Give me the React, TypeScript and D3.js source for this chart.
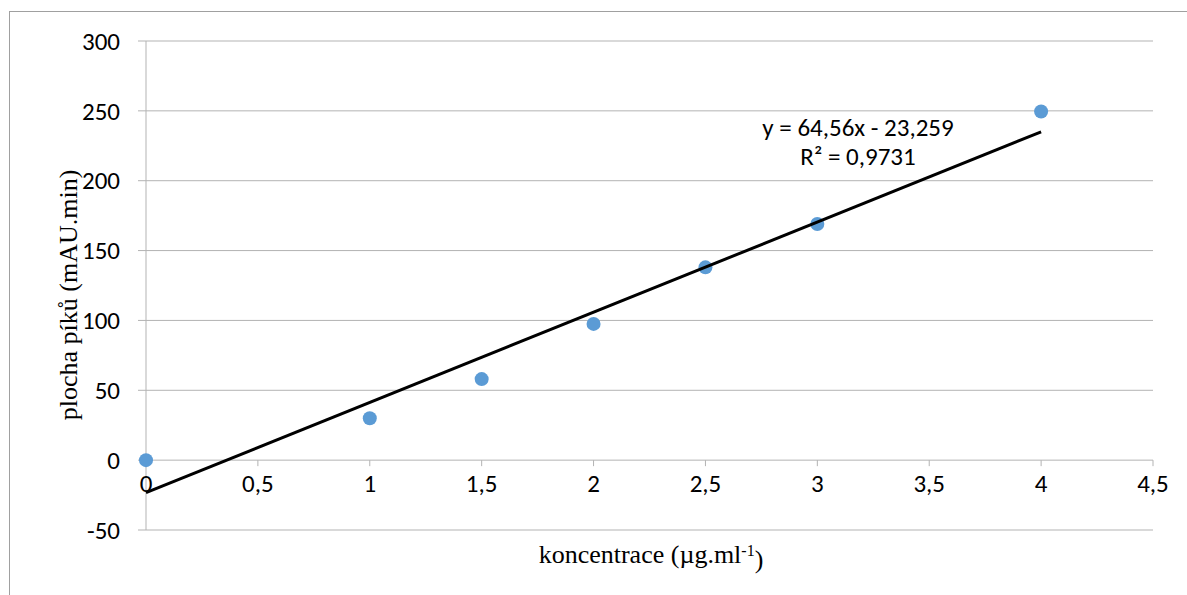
import React from "react";
import * as d3 from "d3";

const xValues = [0, 1, 1.5, 2, 2.5, 3, 4];
const yValues = [0, 30, 58, 97.5, 138, 169, 249.5];
const slope = 64.56;
const intercept = -23.259;
const xTicks = [0, 0.5, 1, 1.5, 2, 2.5, 3, 3.5, 4, 4.5];
const yTicks = [-50, 0, 50, 100, 150, 200, 250, 300];

const W = 1187, H = 595;
const fmt = (v: number) => String(v).replace(".", ",");

export default function App() {
  const x = d3.scaleLinear().domain([0, 4.5]).range([146, 1153]);
  const y = d3.scaleLinear().domain([-50, 300]).range([530, 41]);
  const sans = "Carlito, Lato, 'Open Sans', sans-serif";
  const serif = "'Liberation Serif', 'DejaVu Serif', serif";
  const grid = "#b3b3b3";
  const fs = 25;
  const trend = d3.line<number>().x(d => x(d)).y(d => y(slope * d + intercept));
  return (
    <svg width={W} height={H} style={{ position: "absolute", left: 0, top: 0 }}>
      <rect x={0} y={0} width={W} height={H} fill="#fff" />
      <rect x={9.5} y={11.5} width={W + 10} height={H + 10} fill="none" stroke="#a0a0a0" />
      {yTicks.map(t => (
        <g key={t}>
          <line x1={138} x2={x(4.5)} y1={y(t)} y2={y(t)} stroke={grid} strokeWidth={1} />
          <text x={120} y={y(t)} dy="0.35em" textAnchor="end" fontFamily={sans} fontSize={fs} fill="#000">{fmt(t)}</text>
        </g>
      ))}
      <line x1={x(0)} x2={x(0)} y1={y(300)} y2={y(-50)} stroke={grid} />
      {xTicks.map(t => (
        <g key={t}>
          <line x1={x(t)} x2={x(t)} y1={y(0)} y2={y(0) + 6} stroke={grid} />
          <text x={x(t)} y={y(0) + 23} dy="0.35em" textAnchor="middle" fontFamily={sans} fontSize={fs} fill="#000">{fmt(t)}</text>
        </g>
      ))}
      {xValues.map((xv, i) => (
        <circle key={i} cx={x(xv)} cy={y(yValues[i])} r={7} fill="#5B9BD5" />
      ))}
      <path d={trend([0, 4]) || ""} stroke="#000" strokeWidth={3} fill="none" />
      <text x={858} y={127} dy="0.35em" textAnchor="middle" fontFamily={sans} fontSize={fs}>y = 64,56x - 23,259</text>
      <text x={858} y={156} dy="0.35em" textAnchor="middle" fontFamily={sans} fontSize={fs}>R² = 0,9731</text>
      <text transform={`translate(68,295) rotate(-90)`} dy="0.35em" textAnchor="middle" fontFamily={serif} fontSize={26}>plocha píků (mAU.min)</text>
      <text x={651} y={554} dy="0.35em" textAnchor="middle" fontFamily={serif} fontSize={26}>
        koncentrace (µg.ml<tspan dy="-0.45em" fontSize={16}>-1</tspan><tspan dy="0.45em">)</tspan>
      </text>
    </svg>
  );
}
